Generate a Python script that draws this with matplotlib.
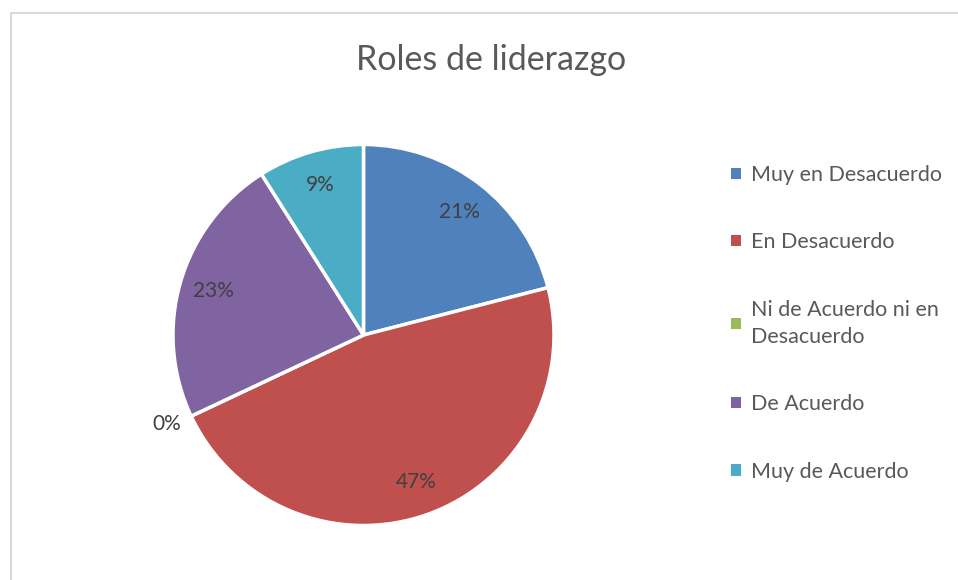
import matplotlib
matplotlib.use("Agg")
import matplotlib.pyplot as plt
from matplotlib.patches import Rectangle, Patch
import numpy as np

categories = ["Muy en Desacuerdo", "En Desacuerdo", "Ni de Acuerdo ni en\nDesacuerdo",
              "De Acuerdo", "Muy de Acuerdo"]
values = [21, 47, 0, 23, 9]
colors = ["#4F81BD", "#C0504D", "#9BBB59", "#8064A2", "#4BACC6"]
title = "Roles de liderazgo"

plt.rcParams['font.family'] = ['Lato', 'DejaVu Sans']

W, H = 958, 580
fig = plt.figure(figsize=(W / 100, H / 100), dpi=100)
fig.patch.set_facecolor("white")

# outer chart frame
fig.add_artist(Rectangle((10.5 / W, -0.1), 1.2, 1 - 12.5 / H + 0.1,
                         transform=fig.transFigure, fill=False,
                         edgecolor="#D9D9D9", linewidth=1.5))

cx, cy, R = 363.5, 335, 190.5
ax = fig.add_axes([(cx - R) / W, 1 - (cy + R) / H, 2 * R / W, 2 * R / H])
wedges, texts, autotexts = ax.pie(
    values, colors=colors, startangle=90, counterclock=False,
    autopct='%1.0f%%', pctdistance=0.82,
    wedgeprops=dict(edgecolor="white", linewidth=2.5),
    textprops=dict(color="#404040", fontsize=15))
ax.set_xlim(-1, 1)
ax.set_ylim(-1, 1)
ax.set_aspect("equal")

for w, t, v in zip(wedges, autotexts, values):
    if v == 0:
        ang = np.deg2rad(w.theta1)
        t.set_position((1.14 * np.cos(ang), 1.1 * np.sin(ang)))

fig.text(491.5 / W, 1 - 60 / H, title, ha="center", va="center",
         fontsize=24.5, color="#595959")

handles = [Patch(facecolor=c, edgecolor="none") for c in colors]
leg = fig.legend(handles, categories, loc="upper left",
                 bbox_to_anchor=(731 / W, 1 - 165 / H), frameon=False,
                 fontsize=15.5, labelcolor="#595959", handlelength=0.45,
                 handleheight=0.45, handletextpad=0.5, labelspacing=2.2,
                 borderaxespad=0, borderpad=0)
for t in leg.get_texts():
    t.set_linespacing(1.45)

fig.savefig("out.png", dpi=100, facecolor="white")
